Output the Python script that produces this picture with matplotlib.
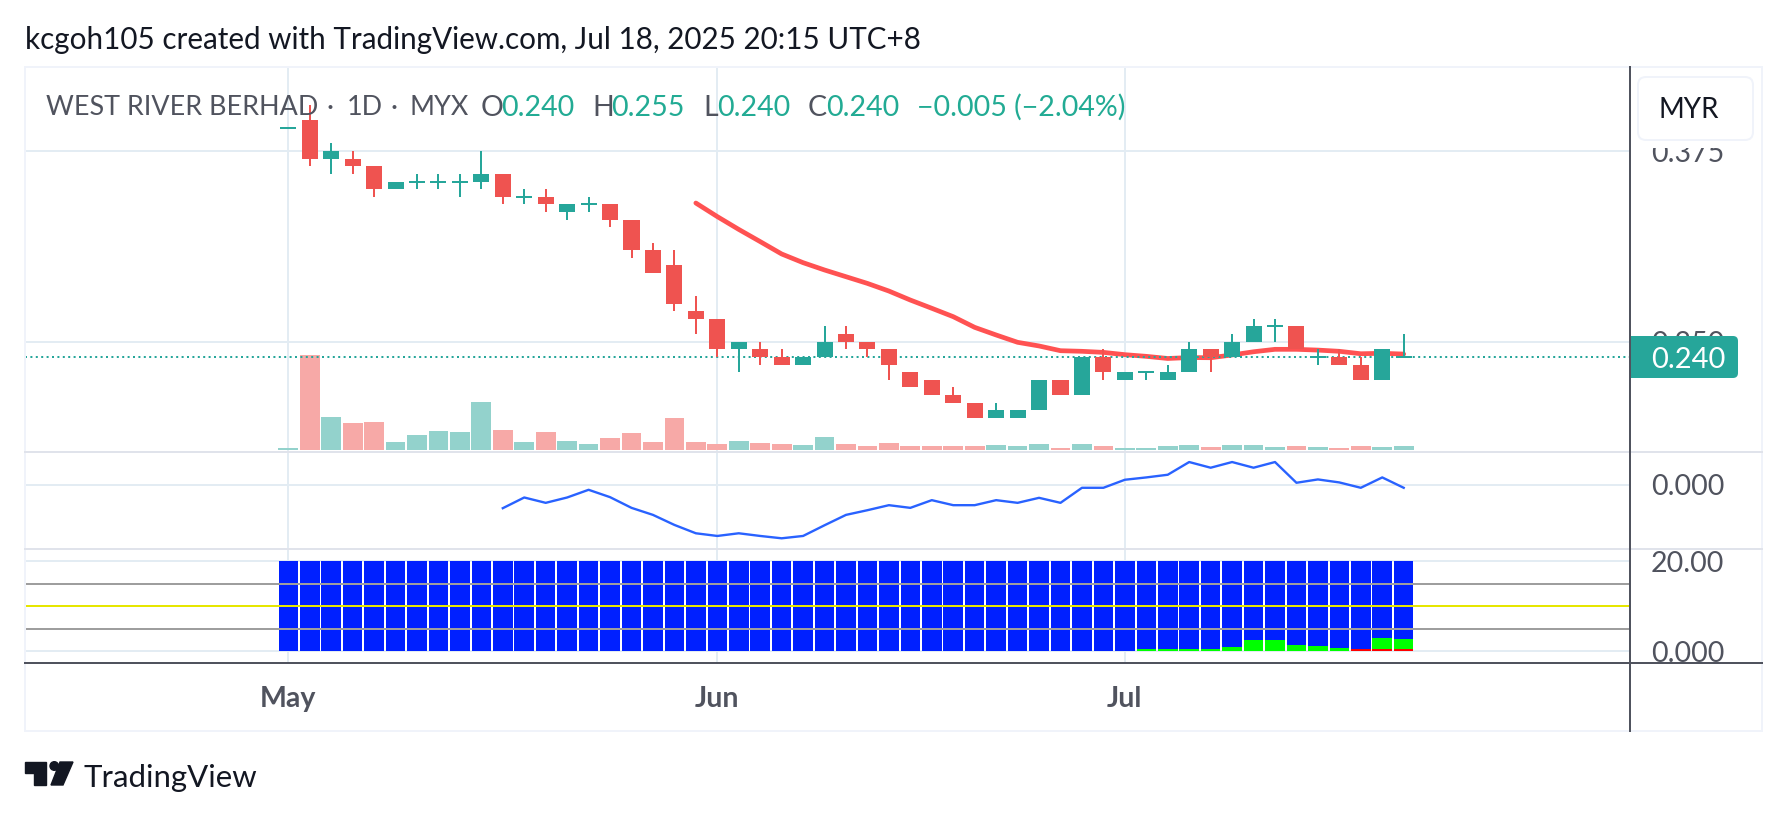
import numpy as np
from matplotlib import pyplot as plt
from matplotlib import transforms
from matplotlib.lines import Line2D
from matplotlib.patches import Rectangle, FancyBboxPatch, Polygon, Circle

plt.rcParams['font.family'] = ['Lato', 'DejaVu Sans']

opens = [0.390, 0.395, 0.370, 0.370, 0.365, 0.350, 0.355, 0.355, 0.355, 0.355, 0.360, 0.345, 0.345, 0.335, 0.340, 0.340, 0.330, 0.310, 0.300,
         0.270, 0.265, 0.245, 0.245, 0.240, 0.235, 0.240, 0.255, 0.250, 0.245, 0.230, 0.225, 0.215, 0.210, 0.200, 0.200, 0.205, 0.225, 0.215, 0.240,
         0.225, 0.230, 0.225, 0.230, 0.245, 0.240, 0.250, 0.260, 0.260, 0.240, 0.240, 0.235, 0.225, 0.240]
highs = [0.390, 0.405, 0.380, 0.375, 0.365, 0.355, 0.360, 0.360, 0.360, 0.375, 0.360, 0.350, 0.350, 0.340, 0.345, 0.340, 0.330, 0.315, 0.310,
         0.280, 0.265, 0.250, 0.250, 0.245, 0.240, 0.260, 0.260, 0.250, 0.245, 0.230, 0.225, 0.220, 0.210, 0.210, 0.205, 0.225, 0.225, 0.240, 0.245,
         0.230, 0.230, 0.235, 0.250, 0.245, 0.255, 0.265, 0.265, 0.260, 0.245, 0.245, 0.240, 0.245, 0.255]
lows = [0.390, 0.365, 0.360, 0.360, 0.345, 0.350, 0.350, 0.350, 0.345, 0.350, 0.340, 0.340, 0.335, 0.330, 0.335, 0.325, 0.305, 0.295, 0.270,
        0.255, 0.240, 0.230, 0.235, 0.235, 0.235, 0.240, 0.245, 0.240, 0.225, 0.220, 0.215, 0.210, 0.200, 0.200, 0.200, 0.205, 0.215, 0.215, 0.225,
        0.225, 0.225, 0.225, 0.230, 0.230, 0.240, 0.250, 0.250, 0.245, 0.235, 0.235, 0.225, 0.225, 0.240]
closes = [0.390, 0.370, 0.375, 0.365, 0.350, 0.355, 0.355, 0.355, 0.355, 0.360, 0.345, 0.345, 0.340, 0.340, 0.340, 0.330, 0.310, 0.295, 0.275,
          0.265, 0.245, 0.250, 0.240, 0.235, 0.240, 0.250, 0.250, 0.245, 0.235, 0.220, 0.215, 0.210, 0.200, 0.205, 0.205, 0.225, 0.215, 0.240, 0.230,
          0.230, 0.230, 0.230, 0.245, 0.240, 0.250, 0.260, 0.260, 0.245, 0.240, 0.235, 0.225, 0.245, 0.240]
volumes = [6, 285, 99, 81, 84, 24, 45, 57, 54, 144, 60, 24, 54, 27, 18, 36, 51, 24, 96, 24, 18, 27, 21, 18, 15, 39, 18, 12, 21, 12, 12, 12, 12,
           15, 12, 18, 6, 18, 12, 6, 6, 12, 15, 9, 15, 15, 9, 12, 9, 6, 12, 9, 12]
sma_start = 19
sma_vals = [0.3409, 0.3320, 0.3236, 0.3156, 0.3075, 0.3018, 0.2970, 0.2926, 0.2882, 0.2832, 0.2773, 0.2719, 0.2664, 0.2594, 0.2544, 0.2496,
            0.2472, 0.2441, 0.2437, 0.2430, 0.2415, 0.2404, 0.2390, 0.2396, 0.2395, 0.2413, 0.2434, 0.2450, 0.2450, 0.2445, 0.2437, 0.2421, 0.2424, 0.2419]
osc_start = 10
osc_vals = [-70, -38, -54, -38, -15, -37, -69, -90, -120, -145, -153, -145, -153, -160, -153, -121, -90, -76, -61, -69, -46, -61, -61, -46, -54,
            -39, -54, -9, -9, 15, 22, 30, 68, 51, 68, 51, 68, 6, 16, 7, -9, 22, -9]
hist_total = 20.0
hist_green = [0.0] * 40 + [0.45, 0.45, 0.45, 0.45, 0.9, 2.4, 2.4, 1.3, 1.1, 0.7, 0.0, 2.4, 2.2]
hist_red = [0.0] * 50 + [0.45, 0.45, 0.45]
month_pos = [0, 20, 39]
month_labels = ['May', 'Jun', 'Jul']
last_price = 0.240

W, H = 1787, 818
LEFT, AXIS_X, RIGHT = 25, 1630, 1762
TOP, SEP1, SEP2, BOTTOM, END = 67, 452, 549, 662.7, 731

UP = '#26a69a'
DOWN = '#ef5350'
GRID = '#e3ecf3'
SEP = '#e0e3eb'
TEXT = '#50535e'
LW2 = 1.44  # 2 px at dpi 100

fig = plt.figure(figsize=(W / 100, H / 100), dpi=100)
fig.patch.set_facecolor('white')
px = transforms.Affine2D().scale(1 / W, -1 / H).translate(0, 1) + fig.transFigure


def pane(top, bottom, **kw):
    a = fig.add_axes([LEFT / W, 1 - bottom / H, (AXIS_X - LEFT) / W, (bottom - top) / H], **kw)
    for s in a.spines.values():
        s.set_visible(False)
    a.patch.set_visible(False)
    return a


bar_x = np.arange(len(closes))
o = np.array(opens)
h = np.array(highs)
l = np.array(lows)
c = np.array(closes)
up = c >= o
xlim = ((LEFT - 288.3) / 21.45, (AXIS_X - 288.3) / 21.45)
tick_x = month_pos

# volume sits under the price axes
vol_ax = pane(TOP, SEP1)
vol_ax.set_zorder(0)
vol_ax.set_xlim(xlim)
vol_ax.set_ylim(-6, 1150)
vol_ax.set_xticks([])
vol_ax.set_yticks([])
for t in tick_x:
    vol_ax.axvline(t, color=GRID, lw=LW2, zorder=0)
vol_colors = [('#93d2cc' if u else '#f7a9a7') for u in up]
vol_ax.bar(bar_x, volumes, width=0.92, color=vol_colors, zorder=2)

ax = pane(TOP, SEP1)
ax.set_zorder(1)
ax.set_xlim(xlim)
ax.set_ylim(0.25 - (SEP1 - 341.7) * 0.005 / 7.628, 0.25 + (341.7 - TOP) * 0.005 / 7.628)
ax.set_xticks([])
ax.yaxis.tick_right()
ax.set_yticks([0.25, 0.375])
ax.set_yticklabels(['0.250', '0.375'])
ax.tick_params(axis='y', length=0, pad=15, labelsize=20.5, labelcolor=TEXT)
for v in [0.25, 0.375]:
    ax.axhline(v, color=GRID, lw=LW2, zorder=0)
ax.plot(bar_x[sma_start:], sma_vals, color='#ff5252', lw=3.4, solid_capstyle='round', zorder=2)
ax.axhline(last_price, color=UP, lw=LW2, linestyle=(0, (1, 1.7)), dash_capstyle='butt', zorder=3)

colors = np.where(up, UP, DOWN)
ax.vlines(bar_x, l, h, colors=colors, lw=LW2, zorder=4)
solid = c != o
ax.bar(bar_x[solid], np.abs(c - o)[solid], bottom=np.minimum(c, o)[solid], width=0.746, color=colors[solid], zorder=5)
ax.hlines(c[~solid], bar_x[~solid] - 0.373, bar_x[~solid] + 0.373, colors=colors[~solid], lw=LW2, zorder=5)

ax2 = pane(SEP1, SEP2)
ax2.set_xlim(xlim)
ax2.set_ylim(-192, 98)
ax2.set_xticks([])
ax2.yaxis.tick_right()
ax2.set_yticks([0])
ax2.set_yticklabels(['0.000'])
ax2.tick_params(axis='y', length=0, pad=15, labelsize=20.5, labelcolor=TEXT)
ax2.axhline(0, color=GRID, lw=LW2, zorder=0)
for t in tick_x:
    ax2.axvline(t, color=GRID, lw=LW2, zorder=0)
ax2.plot(bar_x[osc_start:], osc_vals, color='#2962ff', lw=1.7, zorder=2)

ax3 = pane(SEP2, BOTTOM)
ax3.set_xlim(xlim)
ax3.set_ylim(-(BOTTOM - 651.2) / 4.5, 20 + (561.2 - SEP2) / 4.5)
ax3.yaxis.tick_right()
ax3.set_yticks([0, 20])
ax3.set_yticklabels(['0.000', '20.00'])
ax3.tick_params(axis='y', length=0, pad=15, labelsize=20.5, labelcolor=TEXT)
ax3.set_xticks(tick_x)
ax3.set_xticklabels(month_labels, fontweight='bold')
ax3.tick_params(axis='x', length=0, pad=17, labelsize=20.5, labelcolor=TEXT)
for v in [0, 20]:
    ax3.axhline(v, color=GRID, lw=LW2, zorder=0)
for t in tick_x:
    ax3.axvline(t, color=GRID, lw=LW2, zorder=0)
ax3.bar(bar_x, hist_total, width=0.91, color='#0020ff', zorder=1)
ax3.bar(bar_x, hist_red, width=0.91, color='#ff0000', zorder=2)
ax3.bar(bar_x, hist_green, bottom=hist_red, width=0.91, color='#00ff00', zorder=2)
for v, col in [(15, '#9e9e9e'), (10, '#e6e600'), (5, '#9e9e9e')]:
    ax3.axhline(v, color=col, lw=LW2, zorder=3)

# frame and pane separators
fig.add_artist(Rectangle((LEFT, TOP), RIGHT - LEFT, END - TOP, fill=False, edgecolor='#f0f3fa', lw=LW2, transform=px, zorder=2))
for y in [SEP1, SEP2]:
    fig.add_artist(Line2D([LEFT, RIGHT], [y, y], color=SEP, lw=LW2, transform=px, zorder=2))
fig.add_artist(Line2D([LEFT, RIGHT], [BOTTOM, BOTTOM], color=TEXT, lw=LW2, transform=px, zorder=2))
fig.add_artist(Line2D([AXIS_X, AXIS_X], [TOP, END], color=TEXT, lw=LW2, transform=px, zorder=2))

# currency box, with its white margin over the top of the 0.375 label
fig.add_artist(Rectangle((1633, 72), 126, 76, facecolor='white', edgecolor='none', transform=px, zorder=2))
fig.add_artist(FancyBboxPatch((1644, 83), 103, 51, boxstyle='round,pad=6,rounding_size=8', facecolor='white',
                              edgecolor='#f0f3fa', lw=LW2, transform=px, zorder=2))
fig.text(1689, 108, 'MYR', color='#131722', fontsize=20, ha='center', va='center_baseline', transform=px)

# last price label
fig.add_artist(FancyBboxPatch((1620, 336), 118, 42, boxstyle='round,pad=0,rounding_size=5', facecolor=UP,
                              edgecolor='none', transform=px, zorder=2, clip_path=Rectangle((1631, 330), 120, 60, transform=px)))
fig.text(1688, 358, '0.240', color='white', fontsize=21, ha='center', va='center_baseline', transform=px)

# header
fig.text(25, 38, 'kcgoh105 created with TradingView.com, Jul 18, 2025 20:15 UTC+8', color='#131722', fontsize=21.3,
         ha='left', va='center_baseline', transform=px)
legend_caps = [(46, 'WEST RIVER BERHAD'), (327, '·'), (347, '1D'), (390, '·'), (409, 'MYX')]
for x, s in legend_caps:
    fig.text(x, 105, s, color=TEXT, fontsize=19.4, ha='left', va='center_baseline', transform=px)
legend_bits = [(481, 'O', TEXT), (501, '0.240', '#22ab94'), (592, 'H', TEXT),
               (611, '0.255', '#22ab94'), (703, 'L', TEXT), (717, '0.240', '#22ab94'), (808, 'C', TEXT),
               (826, '0.240', '#22ab94'), (917, '\u22120.005 (\u22122.04%)', '#22ab94')]
for x, s, col in legend_bits:
    fig.text(x, 105, s, color=col, fontsize=20.5, ha='left', va='center_baseline', transform=px)

# logo
fig.add_artist(Polygon([(25, 762), (46, 762), (46, 785), (34, 785), (34, 773), (25, 773)], color='#131722', transform=px))
fig.add_artist(Circle((54.3, 766), 4.3, color='#131722', transform=px))
fig.add_artist(Polygon([(60, 762), (73, 762), (63, 785), (51, 785)], color='#131722', transform=px))
fig.text(83, 775, 'TradingView', color='#131722', fontsize=22.4, ha='left', va='center_baseline', transform=px)

fig.savefig('out.png', dpi=100)
